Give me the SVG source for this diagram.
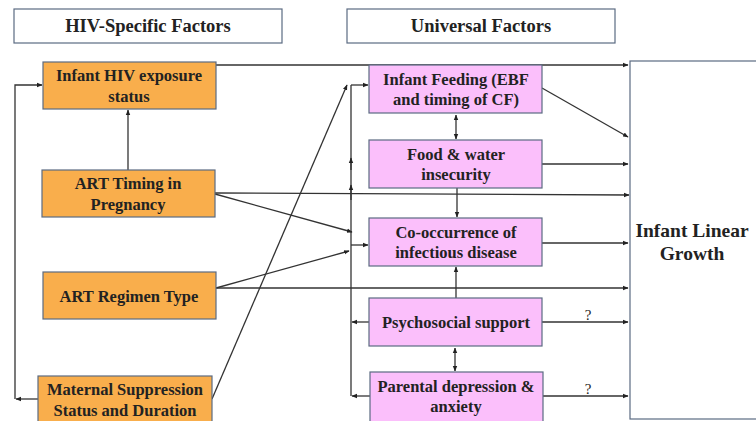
<svg xmlns="http://www.w3.org/2000/svg" width="756" height="421" viewBox="0 0 756 421">
<style>
.hdr{fill:#fff;stroke:#5b6b82;stroke-width:1.2}
.or{fill:#f9ae4c;stroke:#5b6b82;stroke-width:1.2}
.pk{fill:#fbbffb;stroke:#5b6b82;stroke-width:1.2}
.out{fill:#fff;stroke:#5b6b82;stroke-width:1.2}
text{font-family:"Liberation Serif","Times New Roman",serif;font-weight:bold;fill:#222;text-anchor:middle}
.h{font-size:18.5px}
.t{font-size:16.5px}
.big{font-size:19.5px}
.q{font-size:15px;font-weight:normal}
.c path,.c line{stroke:#333;stroke-width:1.3;fill:none}
</style>
<defs>
<marker id="a" markerWidth="6" markerHeight="6" refX="5" refY="3" orient="auto" markerUnits="userSpaceOnUse">
<path d="M0,0.8 L5.5,3 L0,5.2 Z" fill="#222"/>
</marker>
<marker id="s" markerWidth="6" markerHeight="6" refX="0.5" refY="3" orient="auto" markerUnits="userSpaceOnUse">
<path d="M5.5,0.8 L0,3 L5.5,5.2 Z" fill="#222"/>
</marker>
</defs>
<rect width="756" height="421" fill="#fff"/>

<g id="hdr-hiv"><rect class="hdr" x="14" y="9" width="268" height="34"/><text class="h" x="148" y="32">HIV-Specific Factors</text></g>
<g id="hdr-univ"><rect class="hdr" x="347" y="9" width="268" height="34"/><text class="h" x="481" y="32">Universal Factors</text></g>

<g class="c" id="connectors">
<line x1="216" y1="65" x2="628" y2="65" marker-end="url(#a)"/>
<line x1="38" y1="399" x2="16" y2="399" marker-end="url(#a)"/>
<path d="M15,399 L15,85 L42,85" marker-end="url(#a)"/>
<line x1="128" y1="170" x2="128" y2="110" marker-end="url(#a)"/>
<line x1="215" y1="193" x2="629" y2="195" marker-end="url(#a)"/>
<line x1="215" y1="194" x2="352" y2="232" marker-end="url(#a)"/>
<line x1="216" y1="288" x2="349" y2="251" marker-end="url(#a)"/>
<line x1="216" y1="288" x2="628" y2="288" marker-end="url(#a)"/>
<line x1="212" y1="399" x2="347" y2="85" marker-end="url(#a)"/>
<line x1="351" y1="396" x2="351" y2="85"/>
<line x1="351" y1="200" x2="351" y2="185" marker-end="url(#a)"/>
<line x1="351" y1="170" x2="351" y2="158" marker-end="url(#a)"/>
<line x1="351" y1="85" x2="368" y2="85" marker-end="url(#a)"/>
<line x1="351" y1="245" x2="368" y2="245" marker-end="url(#a)"/>
<line x1="369" y1="322" x2="352" y2="322" marker-end="url(#a)"/>
<line x1="370" y1="396" x2="352" y2="396" marker-end="url(#a)"/>
<line x1="542" y1="88" x2="628" y2="137" marker-end="url(#a)"/>
<line x1="456" y1="115" x2="456" y2="139" marker-start="url(#s)" marker-end="url(#a)"/>
<line x1="542" y1="164" x2="628" y2="164" marker-end="url(#a)"/>
<line x1="457" y1="188" x2="457" y2="217" marker-end="url(#a)"/>
<line x1="542" y1="243" x2="628" y2="243" marker-end="url(#a)"/>
<line x1="456" y1="298" x2="456" y2="267" marker-end="url(#a)"/>
<line x1="542" y1="322" x2="628" y2="322" marker-end="url(#a)"/>
<line x1="455" y1="348" x2="455" y2="371" marker-start="url(#s)" marker-end="url(#a)"/>
<line x1="543" y1="396" x2="628" y2="396" marker-end="url(#a)"/>
<text class="q" x="588" y="320">?</text>
<text class="q" x="588" y="394">?</text>
</g>

<g id="n-infant-hiv"><rect class="or" x="43" y="62" width="173" height="47"/><text class="t" x="129" y="81">Infant HIV exposure</text><text class="t" x="129" y="102">status</text></g>
<g id="n-art-timing"><rect class="or" x="42" y="170" width="173" height="47"/><text class="t" x="128" y="189">ART Timing in</text><text class="t" x="128" y="210">Pregnancy</text></g>
<g id="n-art-regimen"><rect class="or" x="43" y="272" width="173" height="47"/><text class="t" x="129" y="302">ART Regimen Type</text></g>
<g id="n-maternal"><rect class="or" x="38" y="376" width="174" height="50"/><text class="t" x="125" y="395">Maternal Suppression</text><text class="t" x="125" y="416">Status and Duration</text></g>

<g id="n-feeding"><rect class="pk" x="369" y="65" width="173" height="48"/><text class="t" x="456" y="85">Infant Feeding (EBF</text><text class="t" x="456" y="105">and timing of CF)</text></g>
<g id="n-food"><rect class="pk" x="369" y="140" width="173" height="48"/><text class="t" x="456" y="160">Food &amp; water</text><text class="t" x="456" y="180">insecurity</text></g>
<g id="n-coocc"><rect class="pk" x="369" y="218" width="173" height="48"/><text class="t" x="456" y="238">Co-occurrence of</text><text class="t" x="456" y="258">infectious disease</text></g>
<g id="n-psych"><rect class="pk" x="369" y="298" width="173" height="48"/><text class="t" x="456" y="328">Psychosocial support</text></g>
<g id="n-parental"><rect class="pk" x="370" y="372" width="173" height="50"/><text class="t" x="456" y="392">Parental depression &amp;</text><text class="t" x="456" y="412">anxiety</text></g>

<g id="n-growth"><rect class="out" x="630" y="61" width="130" height="358"/><text class="big" x="692" y="237">Infant Linear</text><text class="big" x="692" y="260">Growth</text></g>
</svg>
